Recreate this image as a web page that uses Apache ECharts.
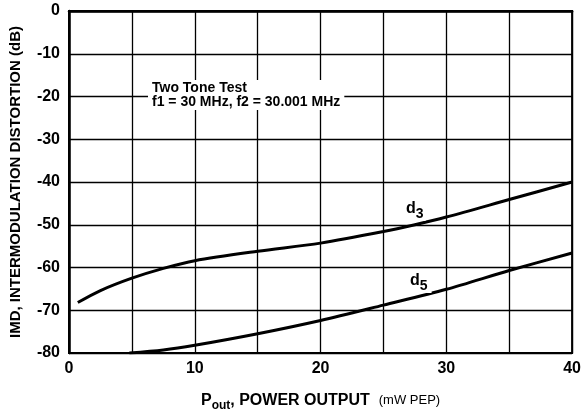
<!DOCTYPE html>
<html>
<head>
<meta charset="utf-8">
<script src="https://cdn.jsdelivr.net/npm/echarts@6/dist/echarts.min.js"></script>
<style>
  html, body { margin: 0; padding: 0; background: #fff; }
  #chart { width: 584px; height: 417px; }
</style>
</head>
<body>
<div id="chart"></div>
<script>
// values (x = mW PEP, y = dB)
const d3Points = [
  [0.7, -68.2], [2.5, -65.4], [5, -62.5], [7.5, -60.2], [10, -58.4],
  [15, -56.2], [20, -54.3], [25, -51.6], [27.5, -50.0], [30, -48.2],
  [35, -44.1], [40, -40.0]
]
const d5Points = [
  [4.8, -80.0], [7.5, -79.3], [10, -78.2], [15, -75.5], [20, -72.4],
  [25, -68.8], [30, -65.1], [35, -60.7], [40, -56.6]
]
const xTicks = [0, 10, 20, 30, 40]
const yTicks = [0, -10, -20, -30, -40, -50, -60, -70, -80]

const font = '"Liberation Sans Narrow", "Liberation Sans", Arial, sans-serif'
const ink = '#000'

const chart = echarts.init(document.getElementById('chart'))

function curve(name, data) {
  return {
    name,
    type: 'line',
    data,
    smooth: 0.3,
    symbol: 'none',
    lineStyle: { color: ink, width: 3 },
    z: 5
  }
}

chart.setOption({
  animation: false,
  backgroundColor: '#fff',
  grid: {
    left: 63, right: 6, top: 11, bottom: 59,
    show: true, borderColor: ink, borderWidth: 2
  },
  xAxis: {
    type: 'value',
    min: 0, max: 40, interval: 5,
    axisLine: { lineStyle: { color: ink, width: 2.5 } },
    axisTick: { show: false },
    splitLine: { lineStyle: { color: ink, width: 1.3 } },
    axisLabel: {
      color: ink, fontFamily: font, fontWeight: 'bold', fontSize: 16, margin: 8,
      formatter: v => xTicks.includes(v) ? String(v) : ''
    },
    name: '{b|P}{sub|out}{b|, POWER OUTPUT  }{s|(mW PEP)}',
    nameLocation: 'middle',
    nameGap: 36,
    nameTextStyle: {
      color: ink,
      rich: {
        b: { fontFamily: font, fontWeight: 'bold', fontSize: 16, color: ink },
        sub: { fontFamily: font, fontWeight: 'bold', fontSize: 12, color: ink, padding: [11, 0, 0, 0] },
        s: { fontFamily: font, fontSize: 13, color: ink }
      }
    }
  },
  yAxis: {
    type: 'value',
    min: -80, max: 0, interval: 10,
    axisLine: { show: true, lineStyle: { color: ink, width: 2.5 } },
    axisTick: { show: false },
    splitLine: { lineStyle: { color: ink, width: 1.3 } },
    axisLabel: {
      color: ink, fontFamily: font, fontWeight: 'bold', fontSize: 16, margin: 9,
      formatter: v => yTicks.includes(v) ? String(v) : ''
    },
    name: 'IMD, INTERMODULATION DISTORTION (dB)',
    nameLocation: 'middle',
    nameGap: 46,
    nameTextStyle: { color: ink, fontFamily: font, fontWeight: 'bold', fontSize: 15 }
  },
  graphic: [
    {
      type: 'text', left: 148, top: 80, z: 10,
      style: {
        text: 'Two Tone Test\nf1 = 30 MHz, f2 = 30.001 MHz',
        font: 'bold 14px ' + font,
        fill: ink, lineHeight: 14,
        backgroundColor: '#fff', padding: [1, 4, 1, 4]
      }
    },
    {
      type: 'text', left: 404, top: 197, z: 10,
      style: {
        text: '{d|d}{s|3}',
        rich: {
          d: { fontFamily: font, fontWeight: 'bold', fontSize: 16, fill: ink },
          s: { fontFamily: font, fontWeight: 'bold', fontSize: 14, fill: ink, padding: [10, 0, 0, 0] }
        },
        backgroundColor: '#fff', padding: [0, 2, 0, 2]
      }
    },
    {
      type: 'text', left: 406, top: 269, z: 10,
      style: {
        text: '{d|d}{s|5}',
        rich: {
          d: { fontFamily: font, fontWeight: 'bold', fontSize: 16, fill: ink },
          s: { fontFamily: font, fontWeight: 'bold', fontSize: 14, fill: ink, padding: [10, 0, 0, 0] }
        },
        backgroundColor: '#fff', padding: [0, 4, 0, 4]
      }
    }
  ],
  series: [
    curve('d3', d3Points),
    curve('d5', d5Points)
  ]
})
</script>
</body>
</html>
